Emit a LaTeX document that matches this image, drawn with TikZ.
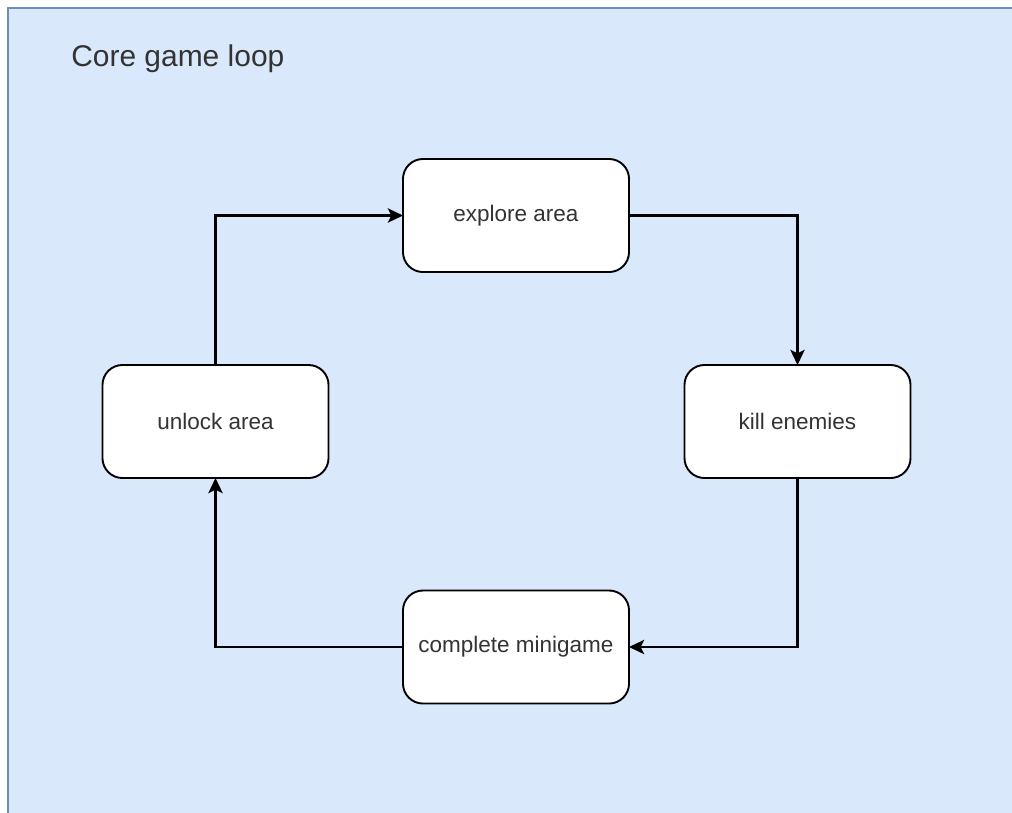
\documentclass[tikz,border=0pt]{standalone}
\usepackage{fontspec}
\setmainfont{Liberation Sans}
\usetikzlibrary{positioning}
\usetikzlibrary{arrows.meta}

\definecolor{loopfill}{HTML}{DAE8FC}
\definecolor{loopline}{HTML}{6C8EBF}

\begin{document}
\begin{tikzpicture}[x=0.025cm,y=-0.025cm,
    gamebox/.style = {draw, fill=white, rounded corners=0.5cm, line width=1.35pt, minimum width=5.65cm, minimum height=2.825cm, inner sep=0pt, outer sep=0pt, font=\fontsize{16}{19}\selectfont, text=black!80},
    flow/.style = {-{Stealth[length=0.38cm,width=0.36cm,inset=0.09cm]}, line width=1.5pt}]
\useasboundingbox (0,0) rectangle (1012,812);
% background panel, runs off the picture's right and bottom edge
\fill[loopfill] (8,8) rectangle (1030,830);
\draw[loopline, line width=1.35pt] (8,830) -- (8,8) -- (1030,8);
\node[anchor=base west, inner sep=0pt, font=\fontsize{21.3}{25}\selectfont, text=black!80] (title) at (71,66.5) {Core game loop};
\node[gamebox] (explore) at (516,215.5) {explore area};
\node[gamebox] (kill) at (797.5,421.5) {kill enemies};
\node[gamebox] (minigame) at (516,647) {complete minigame};
\node[gamebox] (unlock) at (215.5,421.5) {unlock area};
\draw[flow] (explore) -| (kill);
\draw[flow] (kill) |- (minigame);
\draw[flow] (minigame) -| (unlock);
\draw[flow] (unlock) |- (explore);
\end{tikzpicture}
\end{document}
